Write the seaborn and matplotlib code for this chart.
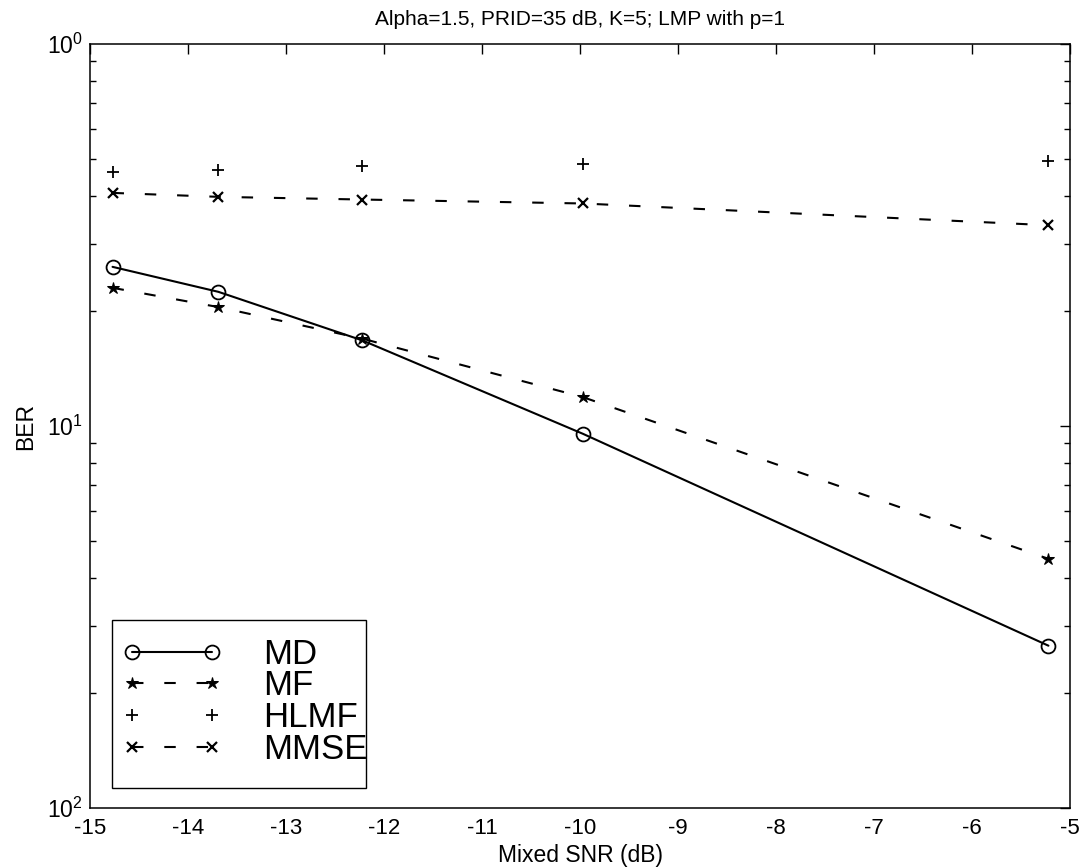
import matplotlib
matplotlib.use("Agg")
import matplotlib.pyplot as plt
import seaborn as sns
import pandas as pd
from matplotlib.ticker import LogLocator, FixedLocator, FixedFormatter, NullFormatter
from matplotlib.patches import Rectangle

# ---- data ----
snr_db = [-14.77, -13.69, -12.22, -9.97, -5.22]
ber_md = [0.261, 0.2245, 0.1675, 0.0954, 0.0266]
ber_mf = [0.230, 0.2048, 0.1693, 0.119, 0.0449]
ber_hlmf = [0.463, 0.469, 0.478, 0.485, 0.494]
ber_mmse = [0.4076, 0.398, 0.3916, 0.3824, 0.3354]
series_names = ["MD", "MF", "HLMF", "MMSE"]
xtick_values = [-15, -14, -13, -12, -11, -10, -9, -8, -7, -6, -5]
ytick_values = [1.0, 0.1, 0.01]
ytick_labels = ["$10^{0}$", "$10^{1}$", "$10^{2}$"]
title_text = "Alpha=1.5, PRID=35 dB, K=5; LMP with p=1"
xlabel_text = "Mixed SNR (dB)"
ylabel_text = "BER"

sns.set_style("white")
plt.rcParams["font.family"] = ["Liberation Sans", "DejaVu Sans"]
plt.rcParams["mathtext.fontset"] = "custom"
plt.rcParams["mathtext.rm"] = "Liberation Sans"
plt.rcParams["mathtext.it"] = "Liberation Sans"
for key in ["text.color", "axes.labelcolor", "xtick.color", "ytick.color"]:
    plt.rcParams[key] = "black"

fig = plt.figure(figsize=(10.83, 8.68), dpi=100)
ax = fig.add_axes([90 / 1083, 1 - 808 / 868, (1070 - 90) / 1083, (808 - 44) / 868])

df = pd.DataFrame({"snr": snr_db, "MD": ber_md, "MF": ber_mf,
                   "HLMF": ber_hlmf, "MMSE": ber_mmse})

lw = 1.5
dash = (5.5, 10)
sns.lineplot(data=df, x="snr", y="MD", ax=ax, sort=False, errorbar=None,
             color="black", lw=lw, marker="o", mfc="none", mec="black",
             mew=1.3, ms=10, label=series_names[0])
sns.lineplot(data=df, x="snr", y="MF", ax=ax, sort=False, errorbar=None,
             color="black", lw=lw, dashes=dash, marker="*", mfc="black",
             mec="black", ms=9, label=series_names[1])
sns.lineplot(data=df, x="snr", y="HLMF", ax=ax, sort=False, errorbar=None,
             color="black", lw=lw, linestyle="none", marker="+",
             mec="black", mew=1.3, ms=9, label=series_names[2])
sns.lineplot(data=df, x="snr", y="MMSE", ax=ax, sort=False, errorbar=None,
             color="black", lw=lw, dashes=dash, marker="x", mec="black",
             mew=1.6, ms=7, label=series_names[3])

ax.set_yscale("log")
ax.set_xlim(-15, -5)
ax.set_ylim(0.01, 1.0)
ax.xaxis.set_major_locator(FixedLocator(xtick_values))
ax.set_xticklabels([str(v) for v in xtick_values])
ax.yaxis.set_major_locator(FixedLocator(ytick_values))
ax.yaxis.set_major_formatter(FixedFormatter(ytick_labels))
ax.yaxis.set_minor_locator(LogLocator(base=10, subs=range(2, 10)))
ax.yaxis.set_minor_formatter(NullFormatter())

ax.tick_params(axis="both", which="major", direction="in", length=7,
               width=1, top=True, right=True, labelsize=16, colors="black")
ax.tick_params(axis="y", which="minor", direction="in", length=4,
               width=1, left=True, right=True)
ax.tick_params(axis="x", which="major", pad=7)
ax.tick_params(axis="y", which="major", pad=5, labelsize=16.5)
for sp in ax.spines.values():
    sp.set_color("black")
    sp.set_linewidth(1.1)

ax.set_title(title_text, fontsize=15, pad=14)
ax.set_xlabel(xlabel_text, fontsize=16.5, labelpad=4)
ax.set_ylabel(ylabel_text, fontsize=16.5, labelpad=7)

fs_leg = 25
leg = ax.legend(loc="center left", bbox_to_anchor=(0.0256, 0.139),
                numpoints=2, fontsize=fs_leg, handlelength=2.88,
                handletextpad=1.18, labelspacing=-0.04, borderpad=0.2,
                borderaxespad=0, frameon=False)
# legend box outline (MATLAB style, text reaching the right border)
ax.add_patch(Rectangle((22 / 980, 20 / 764), 254 / 980, 168 / 764,
                       transform=ax.transAxes, fill=False,
                       edgecolor="black", lw=1.0, zorder=5))

fig.savefig("out.png", dpi=100)
